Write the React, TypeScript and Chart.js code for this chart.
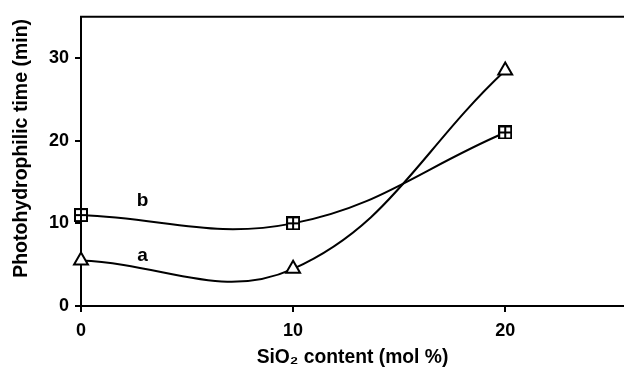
import React, { useEffect, useRef } from "react";
import { Chart, registerables } from "chart.js";

Chart.register(...registerables);

const SIO2 = [0, 10, 20];
const SERIES_A = [5.5, 4.5, 28.5];
const SERIES_B = [11, 10, 21];
const X_TICKS = [0, 10, 20];
const Y_TICKS = [0, 10, 20, 30];
const CURVE_LABELS = ["a", "b"];
const CURVE_LABEL_X = [2.9, 2.9];
const CURVE_LABEL_Y = [6.1, 12.7];
const X_TITLE = "SiO₂ content (mol %)";
const Y_TITLE = "Photohydrophilic time (min)";

function makeSquarePlus(size: number): HTMLCanvasElement {
  const c = document.createElement("canvas");
  c.width = size;
  c.height = size;
  const ctx = c.getContext("2d")!;
  ctx.fillStyle = "#fff";
  ctx.fillRect(0, 0, size, size);
  ctx.strokeStyle = "#000";
  ctx.lineWidth = 2;
  ctx.strokeRect(1, 1, size - 2, size - 2);
  ctx.beginPath();
  ctx.moveTo(size / 2, 1);
  ctx.lineTo(size / 2, size - 1);
  ctx.moveTo(1, size / 2);
  ctx.lineTo(size - 1, size / 2);
  ctx.stroke();
  return c;
}

const FONT = "'Liberation Sans', Arial, sans-serif";

export default function App() {
  const ref = useRef<HTMLCanvasElement | null>(null);
  useEffect(() => {
    if (!ref.current) return;
    const squarePlus = makeSquarePlus(14);
    const extras = {
      id: "extras",
      afterDraw(chart: any) {
        const { ctx, chartArea } = chart;
        ctx.save();
        ctx.strokeStyle = "#000";
        ctx.lineWidth = 2;
        ctx.beginPath();
        ctx.moveTo(chartArea.left - 1, chartArea.top);
        ctx.lineTo(chartArea.right, chartArea.top);
        ctx.stroke();
        ctx.fillStyle = "#000";
        ctx.font = `bold 19px ${FONT}`;
        ctx.textAlign = "center";
        ctx.textBaseline = "middle";
        const xs = chart.scales.x;
        const ys = chart.scales.y;
        CURVE_LABELS.forEach((t, i) => {
          ctx.fillText(t, xs.getPixelForValue(CURVE_LABEL_X[i]), ys.getPixelForValue(CURVE_LABEL_Y[i]));
        });
        // y-axis title
        ctx.translate(22, chartArea.top + (chartArea.bottom - chartArea.top) / 2 - 13);
        ctx.rotate(-Math.PI / 2);
        ctx.font = `bold 19.5px ${FONT}`;
        ctx.fillText(Y_TITLE, 0, 0);
        ctx.restore();
      },
    };
    const chart = new Chart(ref.current, {
      type: "scatter",
      data: {
        datasets: [
          {
            label: "a",
            data: SIO2.map((x, i) => ({ x, y: SERIES_A[i] })),
            showLine: true,
            tension: 0.4,
            clip: false,
            borderColor: "#000",
            borderWidth: 2,
            pointStyle: "triangle",
            pointRadius: 8,
            pointBackgroundColor: "#fff",
            pointBorderColor: "#000",
            pointBorderWidth: 2,
          },
          {
            label: "b",
            data: SIO2.map((x, i) => ({ x, y: SERIES_B[i] })),
            showLine: true,
            tension: 0.4,
            clip: false,
            borderColor: "#000",
            borderWidth: 2,
            pointStyle: squarePlus as any,
            pointRadius: 7,
          },
        ],
      },
      options: {
        animation: false,
        responsive: false,
        devicePixelRatio: 1,
        layout: { autoPadding: false, padding: { top: 14, right: 0, left: 0, bottom: 0 } },
        plugins: { legend: { display: false }, tooltip: { enabled: false } },
        scales: {
          x: {
            type: "linear",
            min: 0,
            max: 25.6,
            afterBuildTicks: (s: any) => {
              s.ticks = X_TICKS.map((v) => ({ value: v }));
            },
            afterFit: (s: any) => {
              s.height = 65;
              s.paddingRight = 0;
              s.paddingLeft = 0;
            },
            grid: { drawOnChartArea: false, drawTicks: true, tickLength: 6, color: "#000", lineWidth: 2 },
            border: { display: true, color: "#000", width: 2 },
            ticks: { color: "#000", font: { family: FONT, size: 18, weight: "bold" }, padding: 8, maxRotation: 0 },
            title: {
              display: true,
              text: X_TITLE,
              color: "#000",
              font: { family: FONT, size: 19.3, weight: "bold" },
              padding: { top: 0, bottom: 2 },
            },
          },
          y: {
            type: "linear",
            min: 0,
            max: 35,
            afterBuildTicks: (s: any) => {
              s.ticks = Y_TICKS.map((v) => ({ value: v }));
            },
            afterFit: (s: any) => {
              s.width = 81;
            },
            grid: { drawOnChartArea: false, drawTicks: true, tickLength: 6, color: "#000", lineWidth: 2 },
            border: { display: true, color: "#000", width: 2 },
            ticks: { color: "#000", font: { family: FONT, size: 18, weight: "bold" }, padding: 6 },
            title: { display: false },
          },
        },
      },
      plugins: [extras],
    } as any);
    return () => chart.destroy();
  }, []);
  return (
    <div style={{ position: "absolute", left: 0, top: 0, width: 624, height: 371, background: "#fff" }}>
      <canvas ref={ref} width={624} height={371} />
    </div>
  );
}
